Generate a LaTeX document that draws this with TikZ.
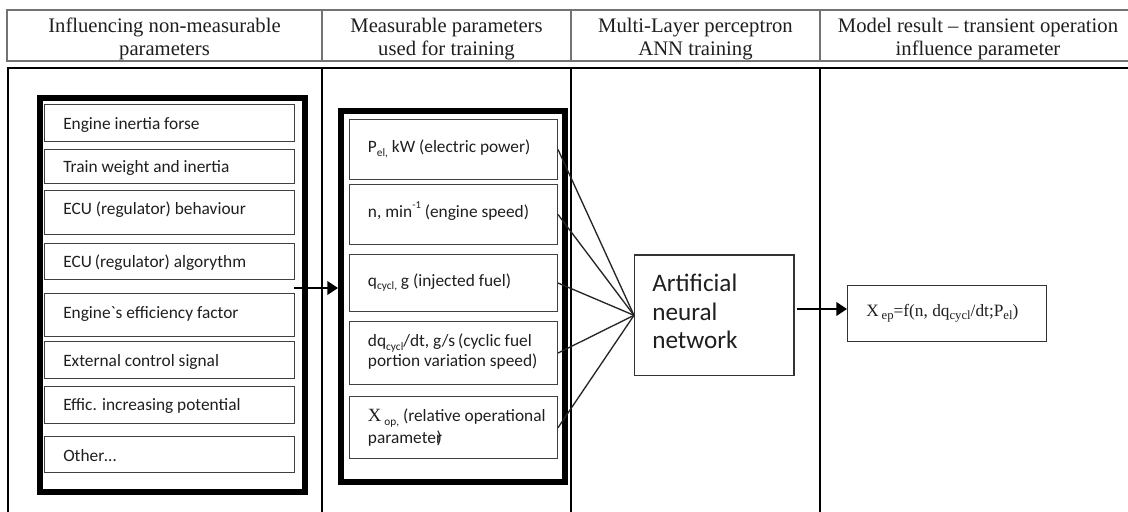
\documentclass[tikz,border=0pt]{standalone}
\usepackage{fontspec}
\setmainfont{Liberation Serif}
\newfontfamily\calib{Carlito}
\usetikzlibrary{arrows.meta}
\newcommand\lowtxt[2][8.5]{\raisebox{-0.22em}{\fontsize{#1}{#1}\selectfont #2}}
\newcommand\hightxt[2][8]{\raisebox{0.5em}{\fontsize{#1}{#1}\selectfont #2}}
\begin{document}
\begin{tikzpicture}[x=0.75pt,y=-0.75pt,
  hline/.style={draw=black!55, line width=1.1pt},
  vline/.style={draw=black, line width=1.5pt},
  hdr/.style={font=\fontsize{15.5}{17}\selectfont, text=black!88, anchor=base, inner sep=0pt},
  bigbox/.style={draw=black, line width=4.5pt, inner sep=0pt},
  ibox/.style={draw=black!75, line width=1pt, inner sep=0pt},
  annbox/.style={draw=black!80, line width=1pt, inner sep=0pt},
  boxat/.style n args={4}{anchor=north west, minimum width={(#3-#1)*0.75pt}, minimum height={(#4-#2)*0.75pt}, at={(#1,#2)}},
  lbl/.style={font=\calib\fontsize{13}{15}\selectfont, anchor=base west, inner sep=0pt, text=black!88},
  annlbl/.style={font=\calib\fontsize{18.9}{21}\selectfont, anchor=base west, inner sep=0pt, text=black!88},
  reslbl/.style={font=\fontsize{13}{14}\selectfont, anchor=base west, inner sep=0pt, text=black!88},
  conn/.style={draw=black!85, line width=1pt},
  arr/.style={draw=black, line width=2.2pt, -{Triangle[length=8pt,width=10pt]}}]
\clip (0,0) rectangle (1128,511);
\fill[white] (0,0) rectangle (1128,511);
% header
\draw[hline] (7,10) rectangle (1140,61);
\draw[hline] (322,10) -- (322,61);
\draw[hline] (571,10) -- (571,61);
\draw[hline] (820,10) -- (820,61);
\node[hdr] (h1a) at (164.5,32) {Influencing non-measurable};
\node[hdr] (h1b) at (164.5,55) {parameters};
\node[hdr] (h2a) at (446.5,32) {Measurable parameters};
\node[hdr] (h2b) at (446.5,55) {used for training};
\node[hdr] (h3a) at (695.5,32) {Multi-Layer perceptron};
\node[hdr] (h3b) at (695.5,55) {ANN training};
\node[hdr] (h4a) at (978,32) {Model result – transient operation};
\node[hdr] (h4b) at (978,55) {influence parameter};
% body frame
\draw[vline] (1140,68) -- (8,68) -- (8,520);
\draw[vline] (322,68) -- (322,520);
\draw[vline] (571,68) -- (571,520);
\draw[vline] (820,68) -- (820,520);
% left block
\node[bigbox, boxat={36.5}{95.3}{302}{489}] (lbig) {};
\node[ibox, boxat={44}{104}{294}{141}] (l1) {};
\node[ibox, boxat={44}{149}{294}{183}] (l2) {};
\node[ibox, boxat={44}{190}{294}{234}] (l3) {};
\node[ibox, boxat={44}{242.7}{294}{279}] (l4) {};
\node[ibox, boxat={44}{293}{294}{335.7}] (l5) {};
\node[ibox, boxat={44}{341}{294}{378}] (l6) {};
\node[ibox, boxat={44}{386}{294}{423}] (l7) {};
\node[ibox, boxat={44}{436}{294}{472}] (l8) {};
\node[lbl] (t1) at (63,129) {Engine inertia forse};
\node[lbl] (t2) at (63,172.7) {Train weight and inertia};
\node[lbl] (t3) at (63,214.3) {ECU (regulator) behaviour};
\node[lbl] (t4) at (63,267.7) {ECU\,(regulator) algorythm};
\node[lbl] (t5) at (63,318.3) {Engine`s efficiency factor};
\node[lbl] (t6) at (63,366) {External control signal};
\node[lbl] (t7) at (63,410.7) {Effic. increasing potential};
\node[lbl] (t8) at (63,461) {Other…};
% middle block
\node[bigbox, boxat={338}{108}{562}{479}] (mbig) {};
\node[ibox, boxat={349}{119}{556.7}{178.7}] (m1) {};
\node[ibox, boxat={349}{183.7}{556.7}{244}] (m2) {};
\node[ibox, boxat={349}{254}{556.7}{310.7}] (m3) {};
\node[ibox, boxat={349}{320.7}{556.7}{384}] (m4) {};
\node[ibox, boxat={349}{396}{556.7}{458}] (m5) {};
\node[lbl] (n1) at (367.7,152.7) {P\lowtxt{el,} kW (electric power)};
\node[lbl] (n2) at (367.7,217) {n, min\hightxt{-1} (engine speed)};
\node[lbl] (n3) at (367.7,286) {q\lowtxt{cycl,} g (injected fuel)};
\node[lbl] (n4a) at (367.7,346.7) {dq\lowtxt{cycl}/dt, g/s\,(cyclic fuel};
\node[lbl] (n4b) at (367.7,366.5) {portion variation speed)};
\node[lbl] (n5a) at (367.7,421.7) {{\rmfamily\fontsize{14}{14}\selectfont X}\,\lowtxt{op,} (relative operational};
\node[lbl] (n5b) at (367.7,443.3) {parameter\kern-4pt)};
% ANN
\node[annbox, boxat={634}{254.3}{793.3}{375}] (ann) {};
\node[annlbl] (a1) at (652,291.5) {Artificial};
\node[annlbl] (a2) at (652,320) {neural};
\node[annlbl] (a3) at (652,348.5) {network};
\foreach \m in {m1,m2,m3,m4,m5} \draw[conn] (\m.east) -- (ann.west);
% result
\node[annbox, boxat={847}{285}{1046}{341}] (res) {};
\node[reslbl] (r1) at (866,316) {X\,\lowtxt[9.5]{ep}=f(n, dq\lowtxt[9.5]{cycl}/dt;P\lowtxt[9.5]{el})};
% arrows
\coordinate (la) at (294,288);
\draw[arr] (la) -- (la -| mbig.west);
\coordinate (ra) at (796.5,309);
\draw[arr] (ra) -- (ra -| res.west);
\end{tikzpicture}
\end{document}
